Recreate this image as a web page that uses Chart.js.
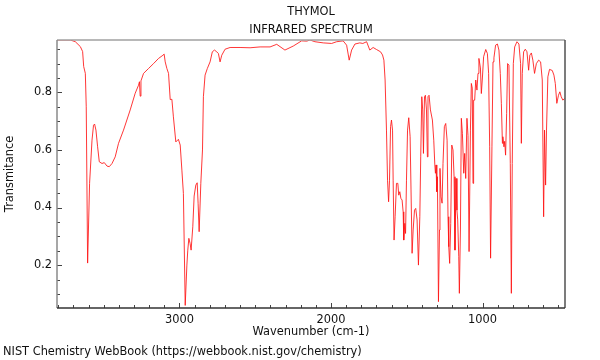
<!DOCTYPE html>
<html><head><meta charset="utf-8">
<script src="https://cdn.jsdelivr.net/npm/chart.js@4/dist/chart.umd.min.js"></script>
<style>html,body{margin:0;padding:0;background:#fff}</style>
</head><body>
<canvas id="c" width="600" height="360"></canvas>
<script>
const titleLines = ['THYMOL', 'INFRARED SPECTRUM'];
const xAxisTitle = 'Wavenumber (cm-1)';
const yAxisTitle = 'Transmitance';
const footerText = 'NIST Chemistry WebBook (https://webbook.nist.gov/chemistry)';
const xRange = [456, 3808];
const yRange = [0.051, 0.982];

const wavenumbers = [
3806,3720,3687,3654,3639,3632,3621,3615,3606,3593,3577,3567,3560,3551,3540,3529,3511,3496,3478,3463,
3445,3424,3402,3369,3325,3292,3270,3264,3259,3254,3237,3204,3171,3138,3109,3101,3094,3083,3072,3061,
3050,3040,3024,3007,2995,2984,2974,2962,2951,2945,2938,2930,2923,2912,2903,2892,2883,2877,2870,2859,
2848,2842,2831,2816,2798,2783,2769,2754,2743,2732,2721,2699,2666,2600,2534,2468,2402,2358,2304,2249,
2194,2160,2139,2106,2051,1996,1963,1920,1897,1880,1864,1842,1810,1790,1765,1744,1722,1700,1673,1660,
1651,1643,1634,1627,1620,1614,1607,1601,1594,1590,1584,1577,1568,1559,1553,1546,1539,1531,1524,1520,
1513,1508,1502,1495,1487,1478,1472,1465,1458,1449,1441,1432,1423,1414,1408,1401,1395,1390,1383,1377,
1370,1364,1360,1353,1344,1331,1322,1315,1311,1307,1302,1298,1291,1284,1281,1274,1267,1261,1252,1243,
1234,1228,1223,1217,1210,1203,1195,1188,1182,1175,1169,1164,1157,1153,1146,1140,1133,1124,1118,1111,
1103,1096,1089,1080,1074,1068,1063,1059,1052,1045,1037,1030,1024,1014,1008,1001,993,979,968,960,
953,947,938,931,925,914,902,892,883,876,869,866,859,854,848,841,835,826,817,810,
804,797,788,773,760,749,744,738,729,718,707,696,688,678,668,657,645,630,617,606,
597,591,584,578,569,558,540,529,520,510,499,490,481,470,459
];
const transmittance = [
0.982,0.982,0.976,0.959,0.942,0.89,0.866,0.75,0.207,0.484,0.634,0.686,0.69,0.669,0.611,0.559,0.553,0.556,0.544,0.542,
0.553,0.576,0.623,0.669,0.739,0.797,0.825,0.837,0.787,0.84,0.866,0.883,0.9,0.918,0.929,0.933,0.906,0.883,0.866,0.775,
0.776,0.715,0.628,0.637,0.617,0.53,0.449,0.06,0.2,0.252,0.293,0.276,0.252,0.333,0.44,0.478,0.486,0.415,0.316,0.484,
0.6,0.785,0.86,0.883,0.906,0.941,0.947,0.941,0.935,0.906,0.929,0.95,0.956,0.956,0.955,0.958,0.958,0.967,0.947,0.961,
0.979,0.978,0.982,0.976,0.972,0.97,0.976,0.979,0.964,0.912,0.947,0.968,0.972,0.97,0.976,0.947,0.956,0.949,0.941,0.93,
0.912,0.843,0.669,0.495,0.42,0.495,0.681,0.704,0.669,0.495,0.287,0.368,0.484,0.484,0.443,0.455,0.432,0.426,0.385,0.287,
0.345,0.31,0.495,0.669,0.712,0.646,0.461,0.241,0.322,0.391,0.397,0.357,0.2,0.368,0.576,0.785,0.739,0.588,0.785,0.79,
0.739,0.576,0.785,0.79,0.739,0.704,0.634,0.548,0.519,0.548,0.455,0.507,0.073,0.322,0.536,0.437,0.415,0.553,0.681,0.692,
0.634,0.368,0.264,0.206,0.345,0.617,0.6,0.507,0.252,0.501,0.391,0.357,0.229,0.102,0.322,0.71,0.658,0.519,0.588,0.501,
0.71,0.65,0.247,0.669,0.831,0.815,0.484,0.773,0.773,0.843,0.808,0.866,0.918,0.885,0.796,0.85,0.924,0.949,0.935,0.866,
0.611,0.224,0.611,0.906,0.92,0.964,0.968,0.947,0.866,0.762,0.623,0.646,0.611,0.63,0.582,0.727,0.9,0.895,0.553,0.102,
0.553,0.9,0.958,0.976,0.968,0.9,0.623,0.866,0.941,0.95,0.941,0.877,0.929,0.937,0.912,0.866,0.9,0.912,0.906,0.843,
0.368,0.669,0.478,0.669,0.854,0.88,0.876,0.86,0.831,0.762,0.79,0.802,0.785,0.773,0.779
];

const FONT = 'DejaVu Sans';
const FS = 11.4;
const isMajorX = v => Math.abs(v % 1000) < 1e-6;
const isMajorY = v => Math.abs(v * 5 - Math.round(v * 5)) < 1e-6;

const framePlugin = {
  id: 'frame',
  afterDraw(chart) {
    const ctx = chart.ctx, a = chart.chartArea;
    const xs = chart.scales.x, ys = chart.scales.y;
    ctx.save();
    ctx.strokeStyle = '#444';
    ctx.lineWidth = 1;
    xs.ticks.forEach(t => {
      const px = Math.round(xs.getPixelForValue(t.value)) + 0.5;
      const len = isMajorX(t.value) ? 5 : 3;
      ctx.beginPath(); ctx.moveTo(px, a.bottom); ctx.lineTo(px, a.bottom - len); ctx.stroke();
    });
    ys.ticks.forEach(t => {
      const py = Math.round(ys.getPixelForValue(t.value)) + 0.5;
      const len = isMajorY(t.value) ? 5 : 3;
      ctx.beginPath(); ctx.moveTo(a.left, py); ctx.lineTo(a.left + len, py); ctx.stroke();
    });
    ctx.lineWidth = 1.5;
    ctx.strokeStyle = '#a0a0a0';
    ctx.beginPath(); ctx.moveTo(a.left, a.top); ctx.lineTo(a.right, a.top); ctx.stroke();
    ctx.strokeStyle = '#8a8a8a';
    ctx.beginPath(); ctx.moveTo(a.left, a.top); ctx.lineTo(a.left, a.bottom); ctx.stroke();
    ctx.strokeStyle = '#505050';
    ctx.beginPath(); ctx.moveTo(a.right, a.top); ctx.lineTo(a.right, a.bottom); ctx.stroke();
    ctx.strokeStyle = '#333';
    ctx.beginPath(); ctx.moveTo(a.left, a.bottom); ctx.lineTo(a.right, a.bottom); ctx.stroke();
    ctx.fillStyle = '#111';
    ctx.font = FS + 'px "' + FONT + '"';
    ctx.textAlign = 'center'; ctx.textBaseline = 'middle';
    const cx = (a.left + a.right) / 2;
    ctx.fillText(titleLines[0], cx, 12);
    ctx.fillText(titleLines[1], cx, 30);
    ctx.fillText(xAxisTitle, cx, 332);
    ctx.save();
    ctx.translate(10, (a.top + a.bottom) / 2);
    ctx.rotate(-Math.PI / 2);
    ctx.fillText(yAxisTitle, 0, 0);
    ctx.restore();
    ctx.textAlign = 'left';
    ctx.fillText(footerText, 3, 352);
    ctx.restore();
  }
};

new Chart(document.getElementById('c'), {
  type: 'line',
  data: {
    datasets: [{
      data: wavenumbers.map((w, i) => ({ x: w, y: transmittance[i] })),
      borderColor: 'rgba(255,20,20,0.85)',
      borderWidth: 1,
      pointRadius: 0,
      tension: 0,
      fill: false
    }]
  },
  options: {
    responsive: false,
    animation: false,
    devicePixelRatio: 1,
    layout: { padding: { left: 0, right: 35, top: 40, bottom: 0 } },
    plugins: { legend: { display: false }, tooltip: { enabled: false }, title: { display: false } },
    scales: {
      x: {
        type: 'linear', reverse: true, min: xRange[0], max: xRange[1],
        grid: { display: false, drawTicks: false }, border: { display: false },
        ticks: {
          stepSize: 100, includeBounds: false, autoSkip: false, maxRotation: 0, padding: 5,
          color: '#111', font: { family: FONT, size: FS },
          callback: v => isMajorX(v) ? String(v) : ''
        },
        afterFit: s => { s.height = 52; }
      },
      y: {
        type: 'linear', min: yRange[0], max: yRange[1],
        grid: { display: false, drawTicks: false }, border: { display: false },
        ticks: {
          stepSize: 0.05, includeBounds: false, autoSkip: false, padding: 5,
          color: '#111', font: { family: FONT, size: FS },
          callback: v => isMajorY(v) ? (Math.round(v * 5) / 5).toFixed(1) : ''
        },
        afterFit: s => { s.width = 57; }
      }
    }
  },
  plugins: [framePlugin]
});
</script>
</body></html>
